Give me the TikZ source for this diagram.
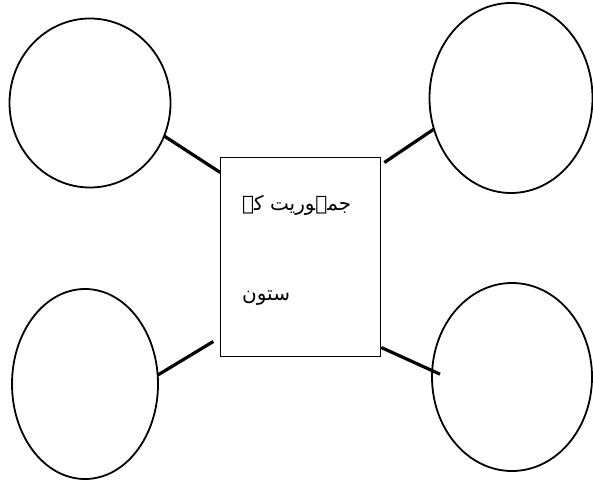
\documentclass[tikz,border=0pt]{standalone}
\usepackage{fontspec}
\usetikzlibrary{shapes.geometric}
\TeXXeTstate=1
\newfontfamily\urdufont[Script=Arabic]{DejaVu Sans}
\tikzset{
  bubble/.style={draw, ellipse, line width=1.8pt, inner sep=0pt, outer sep=0pt},
  centerbox/.style={draw, rectangle, line width=1.4pt, minimum width=160pt, minimum height=199pt, inner sep=0pt, outer sep=0pt},
  link/.style={line width=3.2pt},
  urdutext/.style={font=\urdufont\fontsize{20}{24}\selectfont, inner sep=0pt, anchor=west}
}
\begin{document}
\begin{tikzpicture}[x=1pt, y=-1pt]
\useasboundingbox (0,0) rectangle (593,484);
\node[bubble, minimum width=161pt, minimum height=169pt] (tl) at (90,103) {};
\node[bubble, minimum width=163pt, minimum height=190pt] (tr) at (511,98) {};
\node[bubble, minimum width=146pt, minimum height=190pt] (bl) at (85,384) {};
\node[bubble, minimum width=160pt, minimum height=188pt] (br) at (512,377) {};
\node[centerbox] (box) at (300.3,257) {};
\node[urdutext] (t1) at (242,205) {\beginR جمہوریت کے\endR};
\node[urdutext] (t2) at (242,298) {\beginR ستون\endR};
\draw[link] (tl.-24) -- ([yshift=-15pt]box.north west);
\draw[link] ([xshift=4pt,yshift=-5pt]box.north east) -- (tr.202);
\draw[link] (bl.7) -- ([xshift=-7pt,yshift=15pt]box.south west);
\draw[link] ([xshift=1pt,yshift=9pt]box.south east) -- ([xshift=8pt]br.178);
\end{tikzpicture}
\end{document}
